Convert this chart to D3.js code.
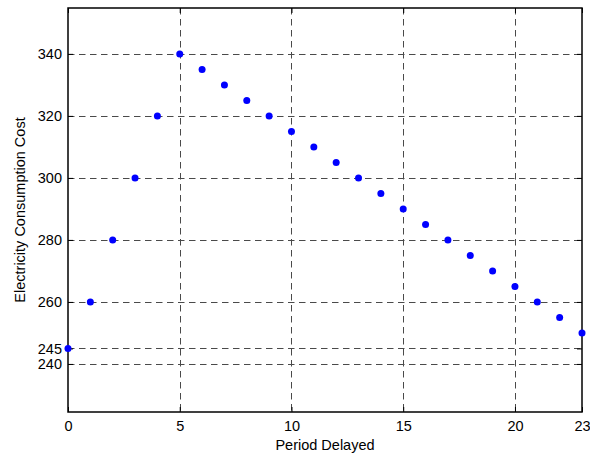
<!DOCTYPE html>
<html>
<head>
<meta charset="utf-8">
<script src="https://cdn.jsdelivr.net/npm/d3@7"></script>
<style>
  body { margin: 0; background: #fff; }
  svg { display: block; font-family: "Liberation Sans", Arial, Helvetica, sans-serif; }
</style>
</head>
<body>
<svg id="chart" width="590" height="454"></svg>
<script>
// Cost of electricity consumption for each delay period
const periods = d3.range(0, 24);
const costs = [245, 260, 280, 300, 320, 340, 335, 330, 325, 320, 315, 310,
               305, 300, 295, 290, 285, 280, 275, 270, 265, 260, 255, 250];
const xTicks = [0, 5, 10, 15, 20, 23];
const yTicks = [240, 245, 260, 280, 300, 320, 340];
const xLabel = "Period Delayed";
const yLabel = "Electricity Consumption Cost";

const svg = d3.select("#chart");
const margin = { left: 68, right: 8, top: 8, bottom: 42 };
const W = 590, H = 454;
const iw = W - margin.left - margin.right;
const ih = H - margin.top - margin.bottom;
const fontSize = "14.5px";

const x = d3.scaleLinear().domain([0, 23]).range([0, iw]);
const y = d3.scaleLinear().domain([224.5, 354.8]).range([ih, 0]);

const g = svg.append("g").attr("transform", `translate(${margin.left},${margin.top})`);

// dashed grid
const gridColor = "#4a4a4a";
g.append("g").selectAll("line").data(yTicks).join("line")
  .attr("x1", 0).attr("x2", iw)
  .attr("y1", d => Math.round(y(d)) + 0.5).attr("y2", d => Math.round(y(d)) + 0.5)
  .attr("stroke", gridColor).attr("stroke-width", 1)
  .attr("stroke-dasharray", "6.5,4.5");
g.append("g").selectAll("line").data(xTicks.filter(d => d > 0 && d < 23)).join("line")
  .attr("y1", 0).attr("y2", ih)
  .attr("x1", d => Math.round(x(d)) + 0.5).attr("x2", d => Math.round(x(d)) + 0.5)
  .attr("stroke", gridColor).attr("stroke-width", 1)
  .attr("stroke-dasharray", "6.5,4.5");

// axes with inward ticks
const tickLen = 5;
const xAxis = d3.axisBottom(x).tickValues(xTicks).tickSize(-tickLen).tickPadding(9).tickSizeOuter(0);
const yAxis = d3.axisLeft(y).tickValues(yTicks).tickSize(-tickLen).tickPadding(6).tickSizeOuter(0);
const xTop = d3.axisTop(x).tickValues(xTicks).tickSize(-tickLen).tickFormat("").tickSizeOuter(0);
const yRight = d3.axisRight(y).tickValues(yTicks).tickSize(-tickLen).tickFormat("").tickSizeOuter(0);

function style(sel) {
  sel.select(".domain").remove();
  sel.selectAll("line").attr("stroke", "#000");
  sel.selectAll("text").attr("fill", "#000").style("font-size", fontSize);
}
g.append("g").attr("transform", `translate(0,${ih})`).call(xAxis).call(style);
g.append("g").call(yAxis).call(style);
g.append("g").call(xTop).call(style);
g.append("g").attr("transform", `translate(${iw},0)`).call(yRight).call(style);

// frame
g.append("rect").attr("x", 0).attr("y", 0).attr("width", iw).attr("height", ih)
  .attr("fill", "none").attr("stroke", "#000").attr("stroke-width", 1.5);

// points
g.append("g").selectAll("circle").data(periods).join("circle")
  .attr("cx", (d, i) => x(d)).attr("cy", (d, i) => y(costs[i]))
  .attr("r", 3.5).attr("fill", "#0000ff");

// axis titles
svg.append("text").attr("x", margin.left + iw / 2).attr("y", 450)
  .attr("text-anchor", "middle").style("font-size", fontSize).text(xLabel);
svg.append("text")
  .attr("transform", `translate(25,${margin.top + ih / 2}) rotate(-90)`)
  .attr("text-anchor", "middle").style("font-size", fontSize).text(yLabel);
</script>
</body>
</html>
